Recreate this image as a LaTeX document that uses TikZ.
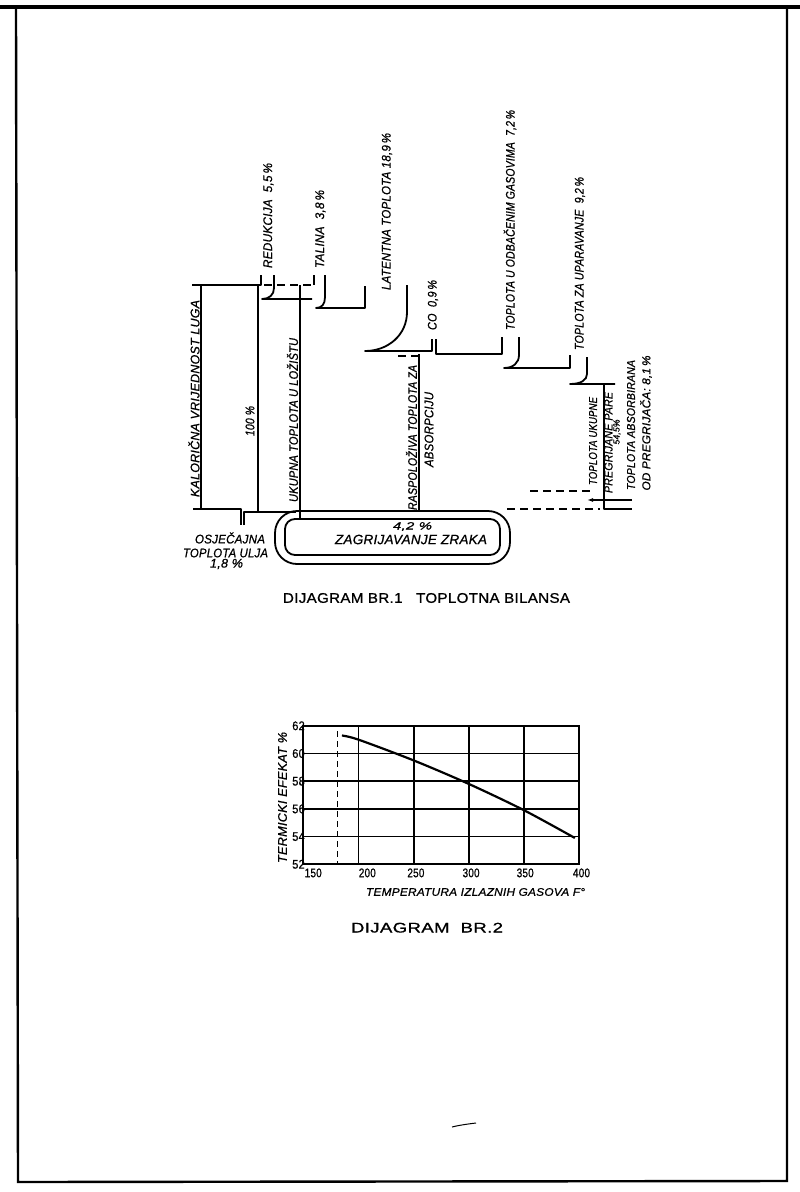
\documentclass[tikz,border=0pt]{standalone}
\usepackage{fontspec}
\setmainfont{Liberation Sans}
\usetikzlibrary{arrows.meta}
\newfontfamily\lbf[LetterSpace=2,FakeBold=0.8]{Liberation Sans}
\newcommand\fitw[2]{\resizebox{#1pt}{\height}{\lbf\itshape #2}}
\newcommand\fitu[2]{\resizebox{#1pt}{\height}{\lbf #2}}
\begin{document}
\begin{tikzpicture}[x=1pt,y=-1pt,
  every node/.style={inner sep=0pt,font=\fontsize{12.5}{14}\selectfont},
  ln/.style={line width=1.8pt,line join=round},
  dsh/.style={line width=1.5pt,dash pattern=on 8pt off 5pt},
  rl/.style={rotate=90},
  grid/.style={line width=1.7pt},
  frame/.style={line width=2.4pt}]
\useasboundingbox (0,0) rectangle (800,1192);
% page border
\draw[line width=3.5pt] (0,7) -- (800,7);
\draw[frame] (16,7) -- (18,1182) -- (787,1181) -- (787,7);
\draw[line width=1pt] (452,1127) .. controls (460,1125) and (468,1124) .. (476,1123);

% ---------- DIAGRAM 1 ----------
\draw[ln] (192,285) -- (261,285) -- (261,275);
\draw[ln] (201,285) -- (201,509);
\draw[ln] (258,285) -- (258,512);
\draw[ln] (193,509) -- (241,509) -- (241,525);
\draw[ln] (244,525) -- (244,512) -- (296,512);
\draw[dsh] (264,285) -- (314,285);
\draw[ln] (314,285) -- (314,275);
\draw[ln] (300,285) -- (300,519);
% REDUKCIJA
\draw[ln] (274,275) -- (274,288) .. controls (274,295) and (269,299) .. (262,299) -- (312,299);
% TALINA
\draw[ln] (325,275) -- (325,297) .. controls (325,304) and (322,308) .. (316,308) -- (365,308) -- (365,286);
% LATENTNA
\draw[ln] (407,285) -- (407,312) .. controls (407,335) and (388,351) .. (365,351) -- (432,351) -- (432,339);
% CO
\draw[ln] (436,339) -- (436,354) -- (502,354) -- (502,337);
\draw[dsh] (398,356) -- (418,356);
\draw[ln] (419,354) -- (419,511);
% ODBACENIM
\draw[ln] (519,337) -- (519,355) .. controls (519,363) and (513,368) .. (504,368) -- (570,368) -- (570,355);
% UPARAVANJE
\draw[ln] (587,357) -- (587,374) .. controls (587,380) and (581,384) .. (570,384) -- (615,384);
\draw[ln] (604,384) -- (604,509) -- (632,509);
\draw[dsh] (507,509) -- (600,509);
\draw[dsh] (530,491) -- (590,491);
\draw[line width=1.4pt,-{Latex[length=6pt,width=4pt]}] (632,500) -- (587,500);
% box
\draw[ln,rounded corners=22pt] (275,511) rectangle (510,564);
\draw[ln,rounded corners=10pt] (285,519) rectangle (500,555);

% labels diagram 1
\node[rl] (kal) at (194,398.5) {\fitw{197}{KALORIČNA VRIJEDNOST LUGA}};
\node[rl] (p100) at (250,421) {\fitw{30}{100 \%}};
\node[rl] (uk) at (292.5,420) {\fitw{164}{UKUPNA TOPLOTA U LOŽIŠTU}};
\node[rl] (ras) at (411.5,437.5) {\fitw{145}{RASPOLOŽIVA TOPLOTA ZA}};
\node[rl] (abs) at (429,429.5) {\fitw{75}{ABSORPCIJU}};
\node[rl] (red) at (268.5,215.5) {\fitw{105}{REDUKCIJA\ \ 5,5\,\%}};
\node[rl] (tal) at (320.5,229) {\fitw{78}{TALINA\ \ 3,8\,\%}};
\node[rl] (lat) at (387,211.5) {\fitw{157}{LATENTNA TOPLOTA 18,9\,\%}};
\node[rl] (co) at (433,305) {\fitw{50}{CO\ \ 0,9\,\%}};
\node[rl] (odb) at (510,220) {\fitw{220}{TOPLOTA U ODBAČENIM GASOVIMA\ \ 7,2\,\%}};
\node[rl] (upa) at (580,263.5) {\fitw{173}{TOPLOTA ZA UPARAVANJE\ \ 9,2\,\%}};
\node[rl,font=\fontsize{11.5}{13}\selectfont] (tuk) at (593,441) {\fitw{88}{TOPLOTA UKUPNE}};
\node[rl,font=\fontsize{11.5}{13}\selectfont] (pre) at (608.5,442.5) {\fitw{101}{PREGRIJANE PARE}};
\node[rl,font=\fontsize{9}{10}\selectfont] (p545) at (617,432) {\fitw{25}{54,5\%}};
\node[rl,font=\fontsize{11.5}{13}\selectfont] (tab) at (631,425) {\fitw{130}{TOPLOTA ABSORBIRANA}};
\node[rl,font=\fontsize{11.5}{13}\selectfont] (odp) at (646,423) {\fitw{135}{OD PREGRIJAČA: 8,1\,\%}};
\node (osj) at (230,538) {\fitw{70}{OSJEČAJNA}};
\node (tul) at (225.5,553) {\fitw{85}{TOPLOTA ULJA}};
\node (p18) at (226.5,564) {\fitw{33}{1,8 \%}};
\node[font=\fontsize{10.5}{12}\selectfont] (p42) at (412.5,526.5) {\fitw{39}{4,2 \%}};
\node[font=\fontsize{13.5}{15}\selectfont] (zag) at (411,539.5) {\fitw{152}{ZAGRIJAVANJE ZRAKA}};
\node[font=\fontsize{14}{16}\selectfont] (t1) at (426.5,598) {\fitu{287}{DIJAGRAM BR.1\ \ \ TOPLOTNA BILANSA}};

% ---------- DIAGRAM 2 ----------
\begin{scope}[shift={(303.3pt,-864.3pt)},x=1.104pt,y=13.85pt]
  \foreach \t in {50,100,150,200} \draw[grid] (\t,0) -- (\t,10);
  \foreach \e in {2,4,6,8} \draw[grid] (0,\e) -- (250,\e);
  \draw[grid] (0,0) rectangle (250,10);
  \draw[line width=1.3pt,dash pattern=on 6pt off 4pt] (31,9.6) -- (31,0);
  \draw[line width=2.2pt] plot[smooth] coordinates {(35,9.3) (50,9.0) (100,7.5) (150,5.8) (200,3.9) (246,1.9)};
  \foreach \e/\l in {10/62,8/60,6/58,4/56,2/54,0/52}
    \node[anchor=east] (y\l) at (1.5,\e) {\fitu{12.5}{\l}};
  \foreach \t/\l in {9/150,58/200,102/250,152/300,201/350,252/400}
    \node (x\l) at (\t,-0.62) {\fitu{17}{\l}};
\end{scope}
\node[rl] (yt) at (282.5,797.5) {\fitw{131}{TERMICKI EFEKAT \%}};
\node[font=\fontsize{11}{13}\selectfont] (xt) at (475.5,892) {\fitw{219}{TEMPERATURA IZLAZNIH GASOVA F°}};
\node[font=\fontsize{14}{16}\selectfont] (t2) at (427,927.7) {\fitu{152}{DIJAGRAM\ \ BR.2}};
\end{tikzpicture}
\end{document}
